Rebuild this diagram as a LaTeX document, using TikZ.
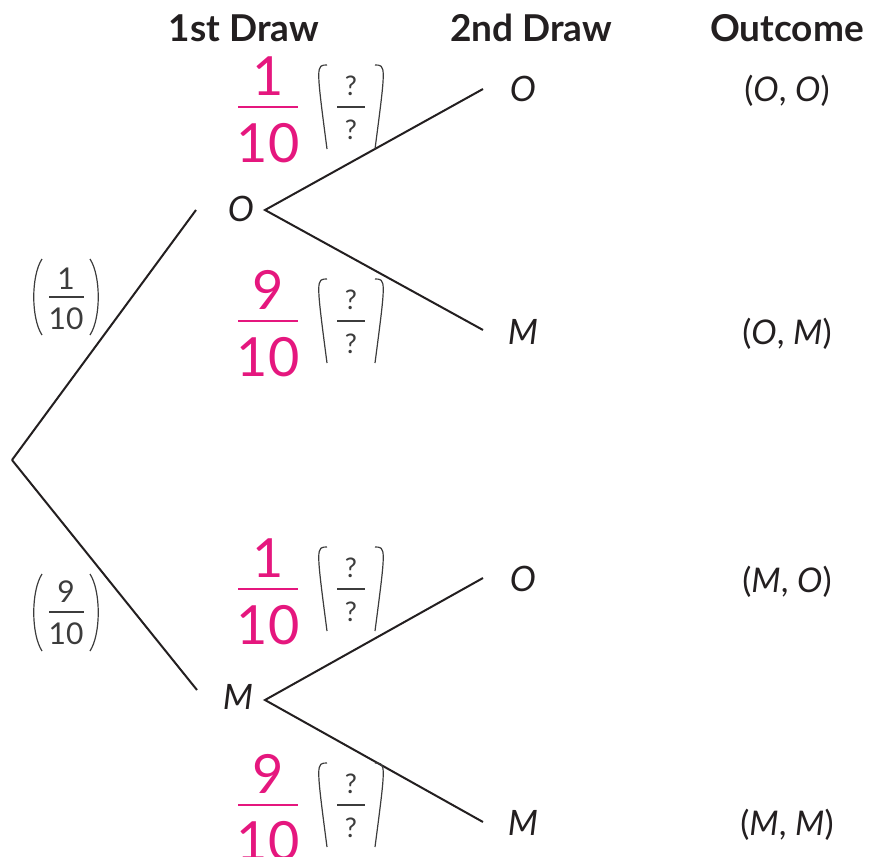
\documentclass[tikz,border=0pt]{standalone}
\usepackage{fontspec}
\setmainfont{Lato}
\definecolor{pinkc}{HTML}{E5177E}
\definecolor{ink}{HTML}{231F20}
\definecolor{pgrey}{HTML}{3C3C3C}
\newcommand\myLP[3]{\draw[paren] (#1+9,#2) .. controls (#1-2,{#2+(#3-#2)*0.22}) and (#1-2,{#2+(#3-#2)*0.78}) .. (#1+9,#3);}
\newcommand\myRP[3]{\draw[paren] (#1-9,#2) .. controls (#1+2,{#2+(#3-#2)*0.22}) and (#1+2,{#2+(#3-#2)*0.78}) .. (#1-9,#3);}
\begin{document}
\begin{tikzpicture}[x=1pt,y=-1pt,
 branch/.style={draw=ink,line width=2pt},
 head/.style={font=\fontsize{37}{42}\selectfont\bfseries,text=ink,inner sep=0,anchor=base},
 lbl/.style={font=\fontsize{35}{40}\selectfont\itshape,text=ink,inner sep=0},
 outc/.style={font=\fontsize{34}{40}\selectfont,text=ink,inner sep=0,anchor=base},
 pnum/.style={font=\fontsize{54}{60}\selectfont,text=pinkc,inner sep=0},
 qnum/.style={font=\fontsize{27}{30}\selectfont,text=pgrey,inner sep=0},
 lnum/.style={font=\fontsize{30}{34}\selectfont,text=pgrey,inner sep=0},
 pbar/.style={draw=pinkc,line width=2.6pt},
 gbar/.style={draw=pgrey,line width=1.5pt},
 paren/.style={draw=pgrey,line width=1.2pt},
]
\useasboundingbox (0,0) rectangle (869,856);

% headers
\node[head] (h1) at (244,42) {1st Draw};
\node[head] (h2) at (531,42) {2nd Draw};
\node[head] (h3) at (787,42) {Outcome};

% tree nodes
\coordinate (root) at (12,460);
\node[lbl] (o1) at (241,209) {O};
\node[lbl] (m1) at (238,697) {M};
\coordinate (o1in) at (196,210);
\coordinate (o1out) at (265,210);
\coordinate (m1in) at (197,690);
\coordinate (m1out) at (265,700);

\node[lbl] (oo) at (523,89) {O};
\node[lbl] (om) at (523,332) {M};
\node[lbl] (mo) at (523,579) {O};
\node[lbl] (mm) at (523,823) {M};
\coordinate (ooin) at (483,89);
\coordinate (omin) at (483,330);
\coordinate (moin) at (483,578);
\coordinate (mmin) at (483,822);

\draw[branch] (root) -- (o1in);
\draw[branch] (root) -- (m1in);
\draw[branch] (ooin) -- (o1out) -- (omin);
\draw[branch] (moin) -- (m1out) -- (mmin);

% outcomes
\node[outc] (r1) at (787,102) {(\textit{O}, \textit{O})};
\node[outc] (r2) at (787,344) {(\textit{O}, \textit{M})};
\node[outc] (r3) at (787,592) {(\textit{M}, \textit{O})};
\node[outc] (r4) at (787,835) {(\textit{M}, \textit{M})};

% pink fractions
\foreach \b/\n/\i in {107/1/a,321/9/b,589/1/c,805/9/d}{
  \node[pnum] (pn\i) at (268,\b-31) {\n};
  \node[pnum] (pd\i) at (268,\b+36) {10};
  \draw[pbar] (238,\b) -- (298,\b);
  % (?/?)
  \node[qnum] (qn\i) at (351,\b-21) {?};
  \node[qnum] (qd\i) at (351,\b+23) {?};
  \draw[gbar] (337,\b) -- (365,\b);
  \myLP{318}{\b-42}{\b+42}
  \myRP{384}{\b-42}{\b+42}
}

% left fractions
\node[lnum] (l1n) at (66,279) {1};
\node[lnum] (l1d) at (66,319) {10};
\draw[gbar] (49,297) -- (84,297);
\myLP{33}{259}{335}
\myRP{99}{259}{335}

\node[lnum] (l2n) at (66,592) {9};
\node[lnum] (l2d) at (66,634) {10};
\draw[gbar] (49,612) -- (84,612);
\myLP{33}{574}{651}
\myRP{99}{574}{651}
\end{tikzpicture}
\end{document}
